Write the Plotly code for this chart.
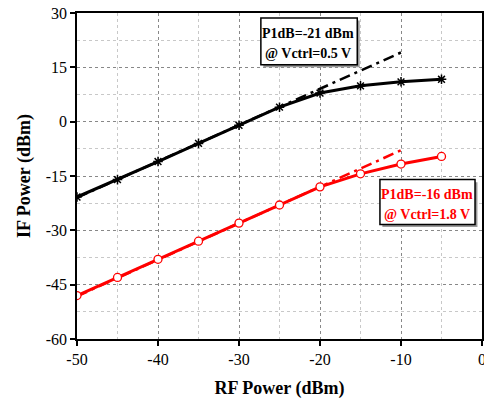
import plotly.graph_objects as go

rf_power = [-50, -45, -40, -35, -30, -25, -20, -15, -10, -5]
if_black = [-20.8, -16, -11, -6, -1, 4, 7.9, 9.9, 11, 11.7]
if_red = [-48, -43, -38, -33, -28, -23, -18, -14.4, -11.7, -9.6]

fit_x = [-50, -9.5]
fit_black = [-21, 19.6]
fit_red = [-48.2, -7.4]

x_ticks = [-50, -40, -30, -20, -10, 0]
y_ticks = [-60, -45, -30, -15, 0, 15, 30]

FONT = "Liberation Serif, Times New Roman, DejaVu Serif, serif"

fig = go.Figure()

fig.add_trace(go.Scatter(x=fit_x, y=fit_black, mode="lines",
                         line=dict(color="black", width=2.5, dash="11px,5px,3px,5px"),
                         showlegend=False))
fig.add_trace(go.Scatter(x=rf_power, y=if_black, mode="lines+markers",
                         line=dict(color="black", width=3),
                         marker=dict(symbol="asterisk-open", size=8, color="black",
                                     line=dict(color="black", width=1.5)),
                         showlegend=False))
fig.add_trace(go.Scatter(x=fit_x, y=fit_red, mode="lines",
                         line=dict(color="red", width=2.5, dash="11px,5px,3px,5px"),
                         showlegend=False))
fig.add_trace(go.Scatter(x=rf_power, y=if_red, mode="lines+markers",
                         line=dict(color="red", width=3),
                         marker=dict(symbol="circle", size=8, color="white",
                                     line=dict(color="red", width=1.3)),
                         showlegend=False))

# annotation boxes (layout), shadow + frame
boxes = [
    dict(x0=-27.3, x1=-15.4, y0=15.7, y1=28.6),
    dict(x0=-12.6, x1=-0.86, y0=-28.4, y1=-16.0),
]
for b in boxes:
    fig.add_shape(type="rect", xref="x", yref="y",
                  x0=b["x0"] + 0.3, x1=b["x1"] + 0.3, y0=b["y0"] - 0.7, y1=b["y1"] - 0.7,
                  fillcolor="#9a9a9a", line=dict(width=0), layer="above")
    fig.add_shape(type="rect", xref="x", yref="y",
                  x0=b["x0"], x1=b["x1"], y0=b["y0"], y1=b["y1"],
                  fillcolor="white", line=dict(color="black", width=1.5), layer="above")

labels = [
    ("P1dB=-21 dBm", -21.5, 24.4, "black"),
    ("@ Vctrl=0.5 V", -21.5, 18.9, "black"),
    ("P1dB=-16 dBm", -6.8, -20.1, "red"),
    ("@ Vctrl=1.8 V", -6.8, -25.6, "red"),
]
for txt, lx, ly, col in labels:
    fig.add_annotation(x=lx, y=ly, xref="x", yref="y", text="<b>" + txt + "</b>",
                       showarrow=False, font=dict(family=FONT, size=14, color=col))

axis_common = dict(showline=True, linecolor="black", linewidth=1.5, mirror=True,
                   ticks="outside", ticklen=5, tickwidth=1.5, tickcolor="black",
                   showgrid=True, gridcolor="#888888", griddash="dot", gridwidth=1,
                   zeroline=False, automargin=False, ticklabeloverflow="allow",
                   tickfont=dict(family=FONT, size=16, color="black"))

fig.update_xaxes(range=[-50, 0], tickvals=x_ticks, ticktext=[str(v) for v in x_ticks],
                 minor=dict(dtick=5, showgrid=True, gridcolor="#c8c8c8", griddash="dot",
                            gridwidth=1, ticks=""),
                 title=dict(text="<b>RF Power (dBm)</b>", font=dict(family=FONT, size=18, color="black"),
                            standoff=14),
                 **axis_common)
fig.update_yaxes(range=[-60, 30], tickvals=y_ticks, ticktext=[str(v) for v in y_ticks],
                 minor=dict(dtick=7.5, tick0=-60, showgrid=True, gridcolor="#c8c8c8", griddash="dot",
                            gridwidth=1, ticks=""),
                 title=dict(text="<b>IF Power (dBm)</b>", font=dict(family=FONT, size=18, color="black"),
                            standoff=10),
                 **axis_common)

fig.update_layout(width=484, height=403, margin=dict(l=77, r=2, t=13, b=64),
                  plot_bgcolor="white", paper_bgcolor="white",
                  font=dict(family=FONT, color="black"))

fig.write_html("out.html", config={"displayModeBar": False},
               post_script="document.body.style.margin='0';document.body.style.padding='0';")
